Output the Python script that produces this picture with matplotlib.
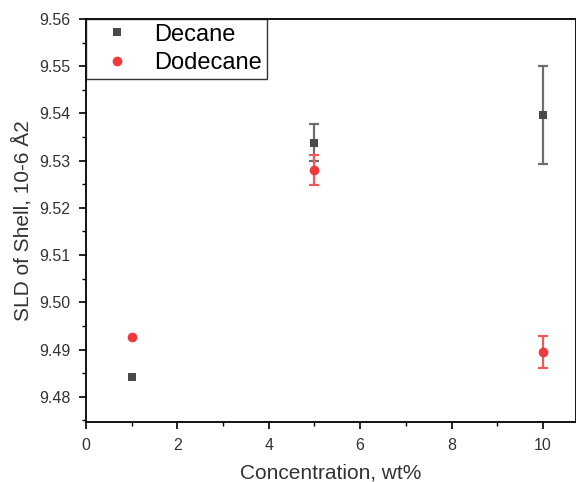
import matplotlib
matplotlib.use("Agg")
import matplotlib.pyplot as plt
import numpy as np
from matplotlib.ticker import MultipleLocator
from matplotlib.lines import Line2D

plt.rcParams['font.family'] = ['Liberation Sans', 'DejaVu Sans']

# Shell SLD vs. concentration for two solvents
conc = [1, 5, 10]
decane_sld = [9.4841, 9.5338, 9.5397]
decane_err = [0.0, 0.0039, 0.0104]
dodecane_sld = [9.4927, 9.5280, 9.4894]
dodecane_err = [0.0, 0.0032, 0.0034]

x_ticks = [0, 2, 4, 6, 8, 10]
y_ticks = [9.48, 9.49, 9.50, 9.51, 9.52, 9.53, 9.54, 9.55, 9.56]

fig = plt.figure(figsize=(5.76, 4.82), dpi=100)
ax = fig.add_axes([0.149, 0.1239, 0.851, 0.8367])

series = [
    ('Decane', decane_sld, decane_err, 's', '#4a4a4a', '#6e6e6e', 6),
    ('Dodecane', dodecane_sld, dodecane_err, 'o', '#f0393c', '#f25a5a', 7),
]
handles = []
for name, y, err, mk, col, ecol, ms in series:
    x = np.asarray(conc, dtype=float)
    y = np.asarray(y)
    err = np.asarray(err)
    has_err = err > 0
    ax.errorbar(x[has_err], y[has_err], yerr=err[has_err], fmt='none',
                ecolor=ecol, elinewidth=1.6, capsize=3.3, capthick=1.6, zorder=2)
    ax.plot(x, y, linestyle='none', marker=mk, color=col, markersize=ms,
            markeredgewidth=0, zorder=3)
    handles.append(Line2D([], [], linestyle='none', marker=mk, color=col,
                          markersize=ms, markeredgewidth=0, label=name))

ax.set_xlim(0, 10.72)
ax.set_ylim(9.4746, 9.56)
ax.set_xticks(x_ticks)
ax.set_yticks(y_ticks)
ax.set_yticklabels([f"{v:.2f}" for v in y_ticks])
ax.xaxis.set_minor_locator(MultipleLocator(1))
ax.yaxis.set_minor_locator(MultipleLocator(0.005))

ax.tick_params(which='major', direction='out', length=5, width=1.2, pad=6,
               labelsize=11.5, labelcolor='#333333')
ax.tick_params(which='minor', direction='out', length=3, width=1.0)
for side in ['left', 'bottom', 'top', 'right']:
    ax.spines[side].set_linewidth(1.3)

ax.set_xlabel('Concentration, wt%', fontsize=15, color='#333333', labelpad=8)
ax.set_ylabel('SLD of Shell, 10-6 Å2', fontsize=15, color='#333333', labelpad=5)

leg = ax.legend(handles=handles, loc='upper left', fontsize=17, frameon=True,
                fancybox=False, edgecolor='black', borderaxespad=0,
                handletextpad=0.5, borderpad=0.2, labelspacing=0.27,
                handlelength=2.2)
leg.get_frame().set_linewidth(1.0)

fig.savefig('out.png', dpi=100)
